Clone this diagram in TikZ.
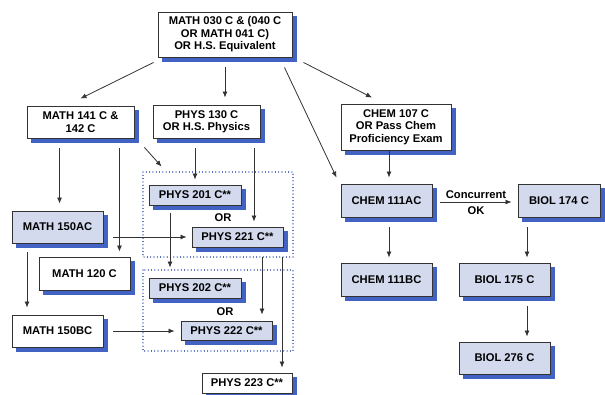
\documentclass[tikz,border=0pt]{standalone}
\usepackage{fontspec}
\setmainfont{Liberation Sans}
\usetikzlibrary{calc,arrows.meta,backgrounds}
\definecolor{sblue}{RGB}{66,98,196}
\definecolor{lblue}{RGB}{211,218,238}
\definecolor{edge}{RGB}{51,51,51}
\definecolor{dotblue}{RGB}{46,77,174}
\tikzset{
  box/.style={draw=edge, line width=0.9pt, fill=white, inner sep=0pt, align=center,
    font=\fontsize{11.2}{12.4}\selectfont\bfseries},
  fbox/.style={box, fill=lblue},
  shad/.style={fill=sblue, draw=none},
  arr/.style={draw=edge, line width=0.8pt, -{Latex[length=6pt,width=5pt]}},
  lbl/.style={inner sep=0pt, font=\fontsize{11.2}{12.4}\selectfont\bfseries},
  dotframe/.style={draw=dotblue, line width=1.1pt, dash pattern=on 0.01pt off 3.3pt, line cap=round}
}
\begin{document}
\begin{tikzpicture}[x=1pt,y=-1pt]
\useasboundingbox (0,0) rectangle (605,394);
% nodes
\node[box, minimum width=134pt, minimum height=45pt] (top) at (225,34.5) {MATH 030 C \& (040 C\\OR MATH 041 C)\\OR H.S. Equivalent};
\node[box, minimum width=107pt, minimum height=32pt] (m141) at (80.5,122) {MATH 141 C \&\\142 C};
\node[box, minimum width=107pt, minimum height=33pt] (p130) at (206.5,121.5) {PHYS 130 C\\OR H.S. Physics};
\node[box, minimum width=110pt, minimum height=46pt] (c107) at (396,127) {CHEM 107 C\\OR Pass Chem\\Proficiency Exam};
\node[fbox, minimum width=91pt, minimum height=33pt] (c111ac) at (386.5,200.5) {CHEM 111AC};
\node[fbox, minimum width=82pt, minimum height=33pt] (b174) at (559,200.5) {BIOL 174 C};
\node[fbox, minimum width=91pt, minimum height=33pt] (c111bc) at (386.5,279.5) {CHEM 111BC};
\node[fbox, minimum width=91pt, minimum height=33pt] (b175) at (504.5,279.5) {BIOL 175 C};
\node[fbox, minimum width=91pt, minimum height=32pt] (b276) at (504.5,358) {BIOL 276 C};
\node[fbox, minimum width=92pt, minimum height=20pt] (p201) at (195,195) {PHYS 201 C**};
\node[fbox, minimum width=91pt, minimum height=20pt] (p221) at (237.5,237) {PHYS 221 C**};
\node[fbox, minimum width=92pt, minimum height=20pt] (p202) at (195,288) {PHYS 202 C**};
\node[fbox, minimum width=91pt, minimum height=19pt] (p222) at (226.5,330.5) {PHYS 222 C**};
\node[box, minimum width=90pt, minimum height=20pt] (p223) at (247,383) {PHYS 223 C**};
\node[fbox, minimum width=91pt, minimum height=32pt] (m150ac) at (57.5,227) {MATH 150AC};
\node[box, minimum width=91pt, minimum height=33pt] (m120) at (84.5,273.5) {MATH 120 C};
\node[box, minimum width=91pt, minimum height=32pt] (m150bc) at (57.5,331) {MATH 150BC};
\node[lbl] (or1) at (223,218) {OR};
\node[lbl] (or2) at (225,312) {OR};
% shadows and dotted frames behind
\begin{scope}[on background layer]
\draw[dotframe] (143,172) rectangle (293,257);
\draw[dotframe] (143,270) rectangle (293,351);
\foreach \n in {top,m141,p130,c107,c111ac,b174,c111bc,b175,b276,p201,p221,p202,p222,p223,m150ac,m120,m150bc}
  \fill[shad] ($(\n.south west)+(4,4.5)$) rectangle ($(\n.north east)+(4.5,4)$);
\end{scope}
% connectors
\draw[arr] ($(top.south west)+(-4,5)$) -- ($(m141.north)+(0,-7)$);
\draw[arr] ($(top.south)+(0,10)$) -- ($(top.south |- p130.north)+(0,-7)$);
\draw[arr] ($(top.south east)+(11,5)$) -- ($(c107.north)+(-24,-6)$);
\draw[arr] ($(top.south east)+(-8,10)$) -- ($(c111ac.north west)+(-4,-6)$);
\draw[arr] ($(m141.south west)+(33,10)$) -- ($(m141.south west |- m150ac.north)+(33,-7)$);
\draw[arr] ($(m141.south east)+(-15,10)$) -- ($(m141.south east |- m120.north)+(-15,-5)$);
\draw[arr] ($(m141.south east)+(10,9)$) -- ($(p201.north west)+(13,-18)$);
\draw[arr] ($(p201.north |- p130.south)+(0,10)$) -- ($(p201.north)+(0,-5)$);
\draw[arr] ($(p221.north |- p130.south)+(16.5,10)$) -- ($(p221.north)+(16.5,-5)$);
\draw[arr] ($(m150ac.east)+(10,10)$) -- ($(p221.west)+(-5,0)$);
\draw[arr] ($(p201.south)+(-25,8)$) -- ($(p202.north)+(-25,-10)$);
\draw[arr] ($(p221.south)+(24.5,10)$) -- ($(p221.south |- p222.north)+(24.5,-6)$);
\draw[arr] ($(p221.south)+(44.5,10)$) -- ($(p221.south |- p223.north)+(44.5,-5)$);
\draw[arr] ($(m150ac.south)+(-30.5,9)$) -- ($(m150bc.north)+(-30.5,-7)$);
\draw[arr] ($(m150bc.east)+(10,0)$) -- ($(m150bc.east -| p222.west)+(-6,0)$);
\draw[arr] ($(c111ac.north |- c107.south)+(2.5,0)$) -- ($(c111ac.north)+(2.5,-6)$);
\draw[arr] ($(c111ac.south)+(2.5,10)$) -- ($(c111bc.north)+(2.5,-5)$);
\draw[arr] ($(c111ac.east)+(8,1.5)$) -- node[lbl, above=3pt] (conc) {Concurrent} node[lbl, below=4pt] (ok) {OK} ($(b174.west)+(-6,1.5)$);
\draw[arr] ($(b175.north |- b174.south)+(22.5,10)$) -- ($(b175.north)+(22.5,-5)$);
\draw[arr] ($(b175.south)+(22.5,10)$) -- ($(b276.north)+(22.5,-5)$);
\end{tikzpicture}
\end{document}
